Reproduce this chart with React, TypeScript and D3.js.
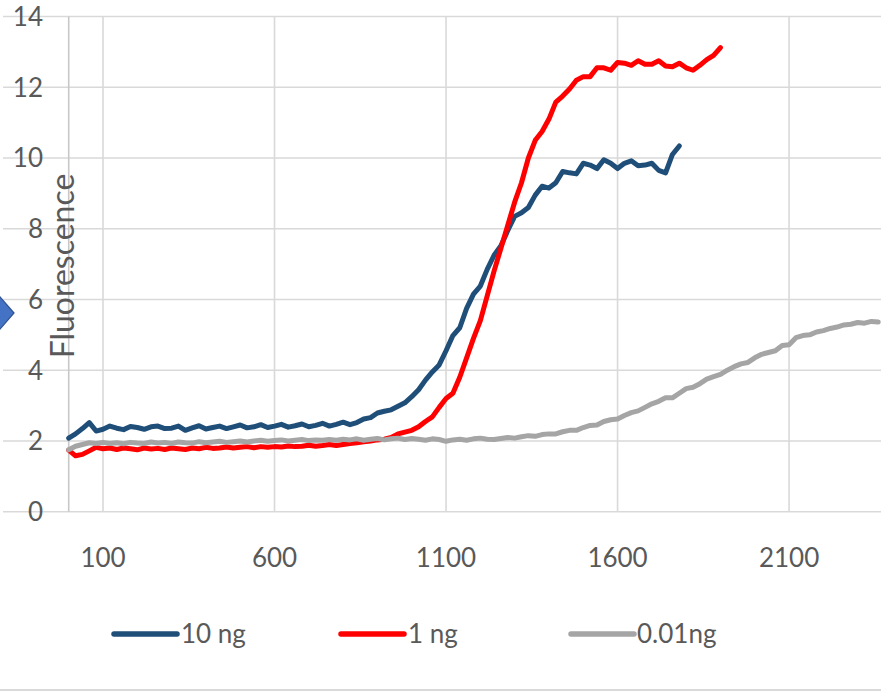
import React from "react";
import * as d3 from "d3";

// sample spacing (x units) of the recorded curves
const STEP = 20;

const seriesNames = ["10 ng", "1 ng", "0.01ng"];
const seriesColors = ["#1F4E79", "#FF0000", "#A5A5A5"];

const xTicks = [100, 600, 1100, 1600, 2100];
const yTicks = [0, 2, 4, 6, 8, 10, 12, 14];

const blue10ng = [
  2.08, 2.2, 2.35, 2.52, 2.28, 2.33, 2.42, 2.36, 2.32, 2.41,
  2.38, 2.33, 2.4, 2.42, 2.35, 2.36, 2.42, 2.3, 2.37, 2.43,
  2.34, 2.38, 2.42, 2.35, 2.4, 2.45, 2.37, 2.4, 2.46, 2.38,
  2.42, 2.47, 2.39, 2.43, 2.48, 2.4, 2.44, 2.5, 2.42, 2.47,
  2.53, 2.46, 2.52, 2.62, 2.66, 2.79, 2.84, 2.88, 2.98, 3.08,
  3.25, 3.45, 3.72, 3.95, 4.15, 4.55, 4.98, 5.2, 5.75, 6.15,
  6.38, 6.85, 7.25, 7.52, 7.95, 8.35, 8.45, 8.6, 8.95, 9.2,
  9.15, 9.3, 9.62, 9.58, 9.55, 9.85, 9.8, 9.7, 9.95, 9.85,
  9.7, 9.85, 9.92, 9.78, 9.8, 9.85, 9.65, 9.58, 10.1, 10.34,
];

const red1ng = [
  1.74, 1.58, 1.62, 1.72, 1.82, 1.78, 1.8, 1.76, 1.8, 1.78,
  1.75, 1.8, 1.77, 1.79, 1.76, 1.8, 1.78, 1.76, 1.8, 1.78,
  1.82, 1.79, 1.8, 1.83, 1.8, 1.82, 1.84, 1.81, 1.84, 1.82,
  1.84, 1.83, 1.86, 1.84, 1.85, 1.88, 1.85, 1.87, 1.9, 1.87,
  1.9, 1.93, 1.95, 1.98, 2.0, 2.03, 2.05, 2.1, 2.2, 2.25,
  2.3, 2.4, 2.55, 2.68, 2.95, 3.2, 3.35, 3.8, 4.35, 4.9,
  5.4, 6.1, 6.8, 7.45, 8.1, 8.75, 9.3, 10.0, 10.5, 10.75,
  11.1, 11.58, 11.75, 11.95, 12.2, 12.3, 12.3, 12.55, 12.55, 12.48,
  12.7, 12.68, 12.62, 12.75, 12.65, 12.65, 12.75, 12.6, 12.58, 12.68,
  12.55, 12.48, 12.62, 12.78, 12.9, 13.12,
];

const gray001ng = [
  1.75, 1.85, 1.9, 1.95, 1.93, 1.96, 1.93, 1.95, 1.92, 1.96,
  1.94, 1.93, 1.97, 1.94, 1.96, 1.93, 1.97, 1.95, 1.94, 1.98,
  1.95, 1.97, 1.99, 1.96, 1.98, 2.0, 1.97, 2.0, 2.02, 1.99,
  2.01, 2.03, 2.0, 2.02, 2.04, 2.01, 2.03, 2.02, 2.04, 2.02,
  2.05, 2.03, 2.06, 2.02, 2.05, 2.07, 2.03, 2.06, 2.08, 2.04,
  2.07, 2.05, 2.02, 2.06, 2.04, 1.99, 2.03, 2.05, 2.02, 2.06,
  2.08, 2.05, 2.04, 2.07, 2.1, 2.08, 2.12, 2.15, 2.13, 2.18,
  2.2, 2.2, 2.26, 2.3, 2.3, 2.38, 2.44, 2.45, 2.55, 2.6,
  2.62, 2.72, 2.8, 2.85, 2.95, 3.05, 3.12, 3.22, 3.22, 3.35,
  3.48, 3.52, 3.62, 3.75, 3.82, 3.88, 4.0, 4.1, 4.18, 4.22,
  4.35, 4.45, 4.5, 4.55, 4.7, 4.72, 4.92, 4.98, 5.0, 5.08,
  5.12, 5.18, 5.22, 5.28, 5.3, 5.35, 5.33, 5.38, 5.36,
];

const allSeries = [blue10ng, red1ng, gray001ng];

const W = 881;
const H = 693;
const FONT = "Lato, 'Open Sans', sans-serif";
const TEXT = "#595959";
const GRID = "#D9D9D9";

export default function App() {
  const x = d3.scaleLinear().domain([0, 2368]).range([68.7, 881]);
  const y = d3.scaleLinear().domain([0, 14]).range([511.7, 16.5]);

  const line = d3
    .line<number>()
    .x((_, i) => x(i * STEP))
    .y((d) => y(d))
    .curve(d3.curveLinear);

  const legendItems = [
    { x0: 114, x1: 177, tx: 181 },
    { x0: 341, x1: 404, tx: 408 },
    { x0: 571, x1: 634, tx: 637 },
  ];

  return (
    <svg
      width={W}
      height={H}
      style={{ position: "absolute", left: 0, top: 0, background: "#fff" }}
    >
      <rect x={0} y={0} width={W} height={H} fill="#fff" />
      {yTicks.map((t) => (
        <line
          key={"hg" + t}
          x1={3}
          x2={W}
          y1={y(t)}
          y2={y(t)}
          stroke={GRID}
          strokeWidth={1.6}
        />
      ))}
      {xTicks.map((t) => (
        <line
          key={"vg" + t}
          x1={x(t)}
          x2={x(t)}
          y1={y(14)}
          y2={y(0)}
          stroke={GRID}
          strokeWidth={1.6}
        />
      ))}
      <line x1={x(0)} x2={x(0)} y1={y(14)} y2={y(0)} stroke="#C8C8C8" strokeWidth={1.6} />

      {yTicks.map((t) => (
        <text
          key={"yl" + t}
          x={43}
          y={y(t)}
          dy="0.36em"
          textAnchor="end"
          fontFamily={FONT}
          fontSize={26}
          fill={TEXT}
        >
          {t}
        </text>
      ))}
      {xTicks.map((t) => (
        <text
          key={"xl" + t}
          x={x(t)}
          y={558}
          dy="0.36em"
          textAnchor="middle"
          fontFamily={FONT}
          fontSize={26}
          fill={TEXT}
        >
          {t}
        </text>
      ))}

      <text
        transform={`translate(74,266) rotate(-90)`}
        textAnchor="middle"
        fontFamily={FONT}
        fontSize={32}
        fill={TEXT}
      >
        Fluorescence
      </text>

      {[0, 1, 2].map((si) => (
        <path
          key={"s" + si}
          d={line(allSeries[si]) || ""}
          fill="none"
          stroke={seriesColors[si]}
          strokeWidth={5}
          strokeLinejoin="round"
          strokeLinecap="round"
        />
      ))}

      {legendItems.map((it, i) => (
        <g key={"lg" + i}>
          <line
            x1={it.x0}
            x2={it.x1}
            y1={634}
            y2={634}
            stroke={seriesColors[i]}
            strokeWidth={5.5}
            strokeLinecap="round"
          />
          <text
            x={it.tx}
            y={634}
            dy="0.36em"
            fontFamily={FONT}
            fontSize={26}
            fill={TEXT}
          >
            {seriesNames[i]}
          </text>
        </g>
      ))}

      <line x1={0} x2={W} y1={690} y2={690} stroke={GRID} strokeWidth={2} />

      <polygon
        points="14,313 -3,293.5 -20,313 -3,332.5"
        fill="#4472C4"
        stroke="#2F528F"
        strokeWidth={1.2}
      />
    </svg>
  );
}
